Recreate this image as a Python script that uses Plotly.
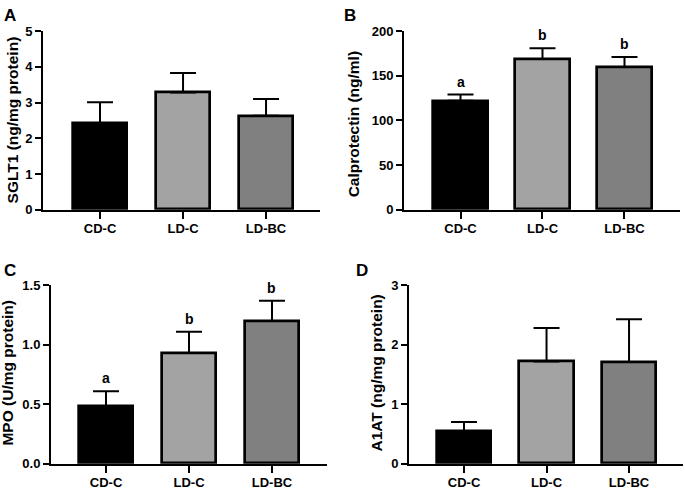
import plotly.graph_objects as go

groups = ["CD-C", "LD-C", "LD-BC"]
bar_colors = ["#000000", "#a3a3a3", "#808080"]

sglt1_mean = [2.43, 3.28, 2.63]
sglt1_err = [0.58, 0.55, 0.47]

calpro_mean = [122, 169, 160]
calpro_err = [7, 12, 11]
calpro_letters = ["a", "b", "b"]

mpo_mean = [0.48, 0.93, 1.20]
mpo_err = [0.13, 0.18, 0.17]
mpo_letters = ["a", "b", "b"]

a1at_mean = [0.54, 1.72, 1.71]
a1at_err = [0.16, 0.56, 0.72]

W, H = 685, 494
FONT = "Liberation Sans, Arial, sans-serif"

panels = [
    dict(m=sglt1_mean, e=sglt1_err, L=None, title="SGLT1 (ng/mg protein)", yr=[0, 5], dt=1, fmt="",
         xp=(43, 320), yp=(209, 25), xr=[-0.687, 2.65], lab="A", labpos=(10, 9), tpos=(12, 117)),
    dict(m=calpro_mean, e=calpro_err, L=calpro_letters, title="Calprotectin (ng/ml)", yr=[0, 200], dt=50, fmt="",
         xp=(404, 680), yp=(209, 25), xr=[-0.689, 2.677], lab="B", labpos=(350, 9), tpos=(353, 121)),
    dict(m=mpo_mean, e=mpo_err, L=mpo_letters, title="MPO (U/mg protein)", yr=[0, 1.5], dt=0.5, fmt=".1f",
         xp=(51, 327), yp=(471, 287), xr=[-0.663, 2.663], lab="C", labpos=(10, 272), tpos=(8, 377)),
    dict(m=a1at_mean, e=a1at_err, L=None, title="A1AT (ng/mg protein)", yr=[0, 3], dt=1, fmt="",
         xp=(409, 683), yp=(471, 287), xr=[-0.667, 2.654], lab="D", labpos=(362, 272), tpos=(377, 378)),
]

fig = go.Figure()
annotations = []
layout = {}
for i, p in enumerate(panels):
    n = "" if i == 0 else str(i + 1)
    xa, ya = "x" + n, "y" + n
    fig.add_trace(go.Bar(
        x=[0, 1, 2], y=p["m"], width=0.66,
        marker=dict(color=bar_colors, line=dict(color="black", width=2.7)),
        error_y=dict(type="data", array=p["e"], arrayminus=[0, 0, 0], symmetric=False,
                     color="black", thickness=2, width=13),
        xaxis=xa, yaxis=ya, showlegend=False,
    ))
    layout["xaxis" + n] = dict(
        domain=[p["xp"][0] / W, p["xp"][1] / W], anchor=ya, range=p["xr"],
        tickmode="array", tickvals=[0, 1, 2], ticktext=groups,
        showline=True, linecolor="black", linewidth=2, ticks="outside", ticklen=7,
        tickwidth=2, tickcolor="black", showgrid=False, zeroline=False,
        ticklabelstandoff=-1,
        tickfont=dict(family=FONT, size=13, color="black", weight="bold"),
    )
    layout["yaxis" + n] = dict(
        domain=[1 - p["yp"][0] / H, 1 - p["yp"][1] / H], anchor=xa, range=p["yr"],
        dtick=p["dt"], tick0=0, tickformat=p["fmt"],
        showline=True, linecolor="black", linewidth=2, ticks="outside", ticklen=6,
        tickwidth=2, tickcolor="black", showgrid=False, zeroline=False,
        tickfont=dict(family=FONT, size=13, color="black", weight="bold"),
    )
    annotations.append(dict(
        text="<b>%s</b>" % p["title"], textangle=-90, xref="paper", yref="paper",
        x=p["tpos"][0] / W, y=1 - p["tpos"][1] / H, xanchor="center", yanchor="middle",
        showarrow=False, font=dict(family=FONT, size=15.5, color="black"),
    ))
    annotations.append(dict(
        text="<b>%s</b>" % p["lab"], xref="paper", yref="paper",
        x=p["labpos"][0] / W, y=1 - p["labpos"][1] / H, xanchor="center", yanchor="middle",
        showarrow=False, font=dict(family=FONT, size=17, color="black"),
    ))
    if p["L"]:
        for j, t in enumerate(p["L"]):
            annotations.append(dict(
                text="<b>%s</b>" % t, xref=xa, yref=ya, x=j, y=p["m"][j] + p["e"][j],
                xanchor="center", yanchor="bottom", yshift=3, showarrow=False,
                font=dict(family=FONT, size=14, color="black"),
            ))

fig.update_layout(
    width=W, height=H, margin=dict(l=0, r=0, t=0, b=0),
    plot_bgcolor="white", paper_bgcolor="white",
    annotations=annotations, bargap=0, **layout,
)
fig.write_html("out.html", config={"displayModeBar": False},
               post_script="document.body.style.margin='0';")
